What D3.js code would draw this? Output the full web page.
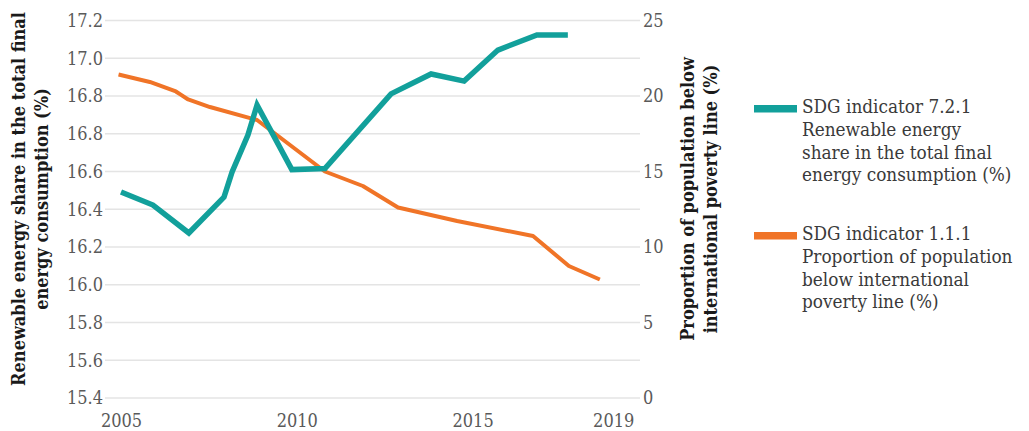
<!DOCTYPE html>
<html>
<head>
<meta charset="utf-8">
<script src="https://cdn.jsdelivr.net/npm/d3@7"></script>
<style>
  html, body { margin: 0; padding: 0; background: #ffffff; }
  svg { display: block; }
  .tick text { font-family: "DejaVu Serif Condensed", "DejaVu Serif", serif; font-size: 18px; fill: #5a5a5a; }
  .title { font-family: "DejaVu Serif Condensed", "DejaVu Serif", serif; font-size: 18px; font-weight: bold; fill: #1a1a1a; }
  .legend text { font-family: "DejaVu Serif Condensed", "DejaVu Serif", serif; font-size: 18.8px; fill: #3a3a3a; }
</style>
</head>
<body>
<svg id="chart" width="1029" height="431"></svg>
<script>
// Renewable energy share (SDG 7.2.1), left axis
const renewYears = [2005.00, 2005.91, 2006.93, 2007.93, 2008.16, 2008.61, 2008.87, 2009.86,
                    2010.80, 2012.68, 2013.82, 2014.76, 2015.72, 2016.83, 2017.71];
const renewShare = [16.382, 16.320, 16.187, 16.358, 16.478, 16.654, 16.797, 16.489,
                    16.494, 16.850, 16.945, 16.911, 17.059, 17.131, 17.131];

// Population below international poverty line (SDG 1.1.1), right axis
const povertyYears = [2004.93, 2005.82, 2006.56, 2006.71, 2006.91, 2007.53, 2008.87, 2010.80,
                      2011.88, 2012.88, 2014.56, 2016.72, 2017.74, 2018.62];
const povertyRate = [21.42, 20.93, 20.30, 20.07, 19.77, 19.27, 18.41, 15.00,
                     14.04, 12.62, 11.72, 10.73, 8.74, 7.85];

// Axis ticks and labels
const yearTicks = [2005, 2010, 2015, 2019];
const leftTickLabels = ["15.4", "15.6", "15.8", "16.0", "16.2", "16.4", "16.6", "16.8", "16.8", "17.0", "17.2"];
const rightTicks = [0, 5, 10, 15, 20, 25];
const gridSteps = [0, 2.5, 5, 7.5, 10, 12.5, 15, 17.5, 20, 22.5, 25];

const leftTitle = ["Renewable energy share in the total final", "energy consumption (%)"];
const rightTitle = ["Proportion of population below", "international poverty line (%)"];
const legendItems = [
  { lines: ["SDG indicator 7.2.1", "Renewable energy", "share in the total final", "energy consumption (%)"], color: "#12a09b" },
  { lines: ["SDG indicator 1.1.1", "Proportion of population", "below international", "poverty line (%)"], color: "#f07427" }
];

const svg = d3.select("#chart");
const plotLeft = 105, plotRight = 640, plotTop = 20.5, plotBottom = 398;

const x = d3.scaleLinear().domain([2005, 2019]).range([121, 613.2]);
const yLeft = d3.scaleLinear().domain([15.4, 17.2]).range([plotBottom, plotTop]);
const yRight = d3.scaleLinear().domain([0, 25]).range([plotBottom, plotTop]);

// Gridlines
svg.append("g").selectAll("line").data(gridSteps).join("line")
  .attr("x1", plotLeft).attr("x2", plotRight)
  .attr("y1", d => yRight(d)).attr("y2", d => yRight(d))
  .attr("stroke", "#e4e4e4").attr("stroke-width", 1.5);

// Left axis: ticks sit on the gridlines
const leftTickValues = gridSteps.map(d => yLeft.invert(yRight(d)));
const leftAxis = svg.append("g").attr("transform", `translate(${plotLeft},0)`)
  .call(d3.axisLeft(yLeft).tickValues(leftTickValues)
    .tickFormat((d, i) => leftTickLabels[i]).tickSize(0).tickPadding(2));
leftAxis.select(".domain").remove();

// Right axis
const rightAxis = svg.append("g").attr("transform", `translate(${plotRight},0)`)
  .call(d3.axisRight(yRight).tickValues(rightTicks).tickSize(0).tickPadding(3));
rightAxis.select(".domain").remove();

// Bottom axis
const bottomAxis = svg.append("g").attr("transform", `translate(0,${plotBottom})`)
  .call(d3.axisBottom(x).tickValues(yearTicks).tickFormat(d3.format("d")).tickSize(0).tickPadding(16));
bottomAxis.select(".domain").remove();

// Lines
const renewLine = d3.line().x(d => x(d[0])).y(d => yLeft(d[1]));
const povertyLine = d3.line().x(d => x(d[0])).y(d => yRight(d[1]));

svg.append("path")
  .datum(povertyYears.map((yr, i) => [yr, povertyRate[i]]))
  .attr("d", povertyLine)
  .attr("fill", "none").attr("stroke", legendItems[1].color)
  .attr("stroke-width", 4).attr("stroke-linejoin", "round");

svg.append("path")
  .datum(renewYears.map((yr, i) => [yr, renewShare[i]]))
  .attr("d", renewLine)
  .attr("fill", "none").attr("stroke", legendItems[0].color)
  .attr("stroke-width", 5.5).attr("stroke-linejoin", "miter");

// Axis titles
function title(lines, tx, ty, gap) {
  const t = svg.append("text").attr("class", "title")
    .attr("transform", `translate(${tx},${ty}) rotate(-90)`)
    .attr("text-anchor", "middle");
  lines.forEach((s, i) => t.append("tspan").attr("x", 0).attr("y", i * gap).text(s));
}
title(leftTitle, 25, 199, 23);
title(rightTitle, 694, 199, 22.5);

// Legend
const legendTops = [113, 240];
const legend = svg.append("g").attr("class", "legend");
legendItems.forEach((item, k) => {
  legend.append("rect")
    .attr("x", 754).attr("y", legendTops[k] - 8).attr("width", 43).attr("height", 7.5)
    .attr("fill", item.color);
  const t = legend.append("text");
  item.lines.forEach((s, i) => t.append("tspan").attr("x", 802).attr("y", legendTops[k] + i * 22.8).text(s));
});
</script>
</body>
</html>
